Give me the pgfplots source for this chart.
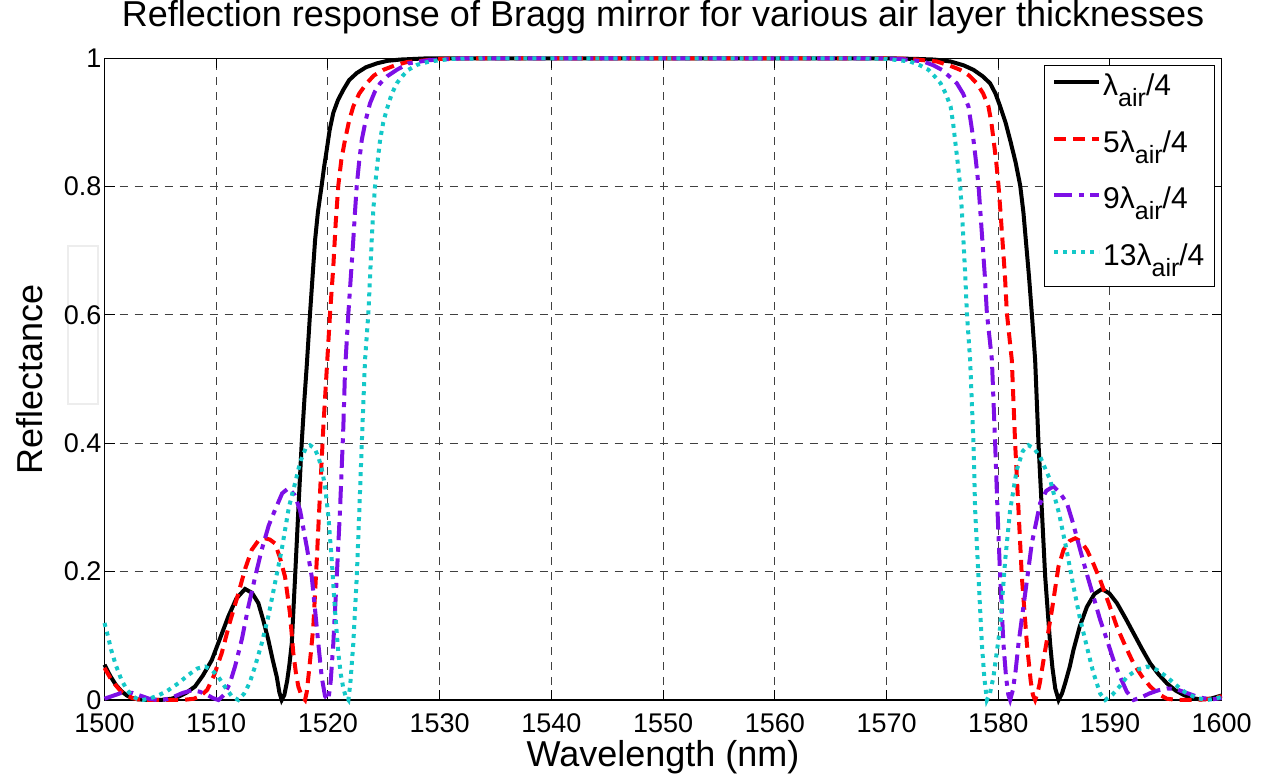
\documentclass[border=0pt]{standalone}
\usepackage{fontspec}
\setmainfont{Liberation Sans}
\usepackage{pgfplots}
\pgfplotsset{compat=1.18}
\definecolor{mpurple}{RGB}{125,15,230}
\definecolor{mcyan}{RGB}{20,200,200}
\newcommand\sub[1]{\raisebox{-5.5pt}{\fontsize{12.5}{12.5}\selectfont #1}}

\begin{document}
\begin{tikzpicture}
\useasboundingbox (-52.25pt,-39.5pt) rectangle (581.25pt,350pt);
\draw[black!7, line width=0.8pt] (-18.25pt,148pt) rectangle (-3.25pt,227pt);
\begin{axis}[
  scale only axis, width=558.6pt, height=320.85pt,
  xmin=1500, xmax=1600, ymin=0, ymax=1,
  xtick={1500,1510,...,1600}, ytick={0,0.2,0.4,0.6,0.8,1},
  /pgf/number format/1000 sep={},
  /pgf/number format/assume math mode=true,
  ticklabel style={font=\fontsize{13.5}{13.5}\selectfont},
  xticklabel style={anchor=base, yshift=-16.3pt},
  yticklabel style={anchor=east, xshift=2pt},
  tick align=inside, major tick length=5pt,
  tick style={black, line width=0.5pt},
  axis line style={black, line width=0.6pt},
  grid=major,
  major grid style={black!75, line width=0.5pt, dash pattern=on 4pt off 3.5pt},
  title={Reflection response of Bragg mirror for various air layer thicknesses},
  title style={at={(axis description cs:0.5,1.03117)}, anchor=base, font=\fontsize{18}{18}\selectfont},
  xlabel={Wavelength (nm)},
  xlabel style={at={(axis description cs:0.5,-0.10394)}, anchor=base, font=\fontsize{18}{18}\selectfont},
  ylabel={Reflectance},
  ylabel style={at={(axis description cs:-0.05505,0.5)}, anchor=base, rotate=0, font=\fontsize{18}{18}\selectfont},
  clip=false,
  legend style={at={(axis description cs:0.994,0.9896)}, anchor=north east,
    draw=black, line width=0.6pt, fill=white,
    font=\fontsize{15}{17}\selectfont,
    inner xsep=4pt, inner ysep=3pt, row sep=8.8pt,
    nodes={inner xsep=1pt, inner ysep=1pt, text height=11pt, text depth=6.5pt}},
  legend cell align=left,
  legend image code/.code={\draw[#1] (0pt,4.5pt) -- (22.5pt,4.5pt);},
]
% lambda/4
\addplot[black, line width=2pt] coordinates {
(1500.0,0.055)(1500.5,0.038)(1501.0,0.024)(1501.5,0.014)(1502.0,0.007)(1502.5,0.003)(1503.0,0.001)(1504.0,0.0)(1505.0,0.0)(1506.0,0.002)(1506.6,0.005)(1507.3,0.011)(1508.1,0.021)(1508.8,0.038)(1509.6,0.062)(1510.3,0.094)(1511.08,0.130)(1511.8,0.158)(1512.58,0.173)(1513.2,0.167)(1513.77,0.151)(1514.2,0.125)(1514.66,0.094)(1515.05,0.063)(1515.42,0.036)(1515.65,0.012)(1515.86,0.0)(1516.1,0.008)(1516.35,0.03)(1516.55,0.055)(1516.76,0.088)(1517.06,0.192)(1517.35,0.296)(1517.65,0.40)(1517.9,0.47)(1518.1,0.52)(1518.4,0.603)(1518.85,0.717)(1519.1,0.76)(1519.44,0.802)(1519.65,0.83)(1519.89,0.857)(1520.15,0.888)(1520.48,0.915)(1520.9,0.935)(1521.38,0.951)(1521.9,0.966)(1522.58,0.977)(1523.4,0.986)(1524.37,0.992)(1525.3,0.996)(1526.45,0.998)(1529,1.0)(1570,1.0)(1572.7,0.999)(1574.3,0.998)(1575.73,0.995)(1576.9,0.989)(1577.78,0.982)(1578.6,0.972)(1579.27,0.961)(1579.75,0.945)(1580.17,0.925)(1580.65,0.9)(1581.1,0.87)(1581.55,0.838)(1581.96,0.802)(1582.25,0.76)(1582.5,0.71)(1582.75,0.66)(1583.0,0.603)(1583.3,0.53)(1583.6,0.40)(1583.9,0.296)(1584.2,0.192)(1584.64,0.088)(1584.85,0.05)(1585.1,0.018)(1585.4,0.0)(1585.7,0.01)(1586.0,0.027)(1586.4,0.052)(1586.73,0.078)(1587.3,0.115)(1587.93,0.145)(1588.6,0.165)(1589.28,0.173)(1589.95,0.166)(1590.62,0.151)(1591.4,0.127)(1592.11,0.104)(1592.85,0.08)(1593.6,0.057)(1594.35,0.04)(1595.09,0.026)(1595.85,0.015)(1596.58,0.008)(1597.3,0.003)(1598.07,0.001)(1599.0,0.002)(1600,0.007)
};
\addlegendentry{λ\sub{air}/4}
% 5 lambda/4
\addplot[red, line width=2pt, dash pattern=on 6pt off 3.5pt] coordinates {
(1500,0.05)(1500.5,0.035)(1501,0.023)(1501.5,0.013)(1502,0.007)(1502.5,0.003)(1503,0.001)(1504,0.0)(1506,0.0)(1507,0.0)(1508,0.002)(1508.6,0.006)(1509.2,0.016)(1509.8,0.038)(1510.49,0.073)(1511.2,0.12)(1511.98,0.166)(1512.6,0.205)(1513.18,0.234)(1513.8,0.249)(1514.37,0.252)(1514.8,0.25)(1515.26,0.244)(1515.7,0.222)(1516.16,0.192)(1516.6,0.135)(1516.9,0.073)(1517.15,0.04)(1517.35,0.021)(1517.65,0.006)(1517.95,0.0)(1518.1,0.012)(1518.25,0.036)(1518.45,0.07)(1518.69,0.114)(1519.0,0.218)(1519.29,0.322)(1519.59,0.426)(1519.89,0.514)(1520.19,0.603)(1520.48,0.675)(1520.7,0.745)(1520.93,0.802)(1521.2,0.842)(1521.53,0.873)(1521.9,0.903)(1522.27,0.925)(1522.8,0.945)(1523.47,0.961)(1524.1,0.973)(1524.96,0.982)(1526,0.989)(1527.05,0.994)(1530,0.999)(1532,1.0)(1570,1.0)(1572.1,0.999)(1574.5,0.995)(1575.6,0.989)(1576.59,0.982)(1577.4,0.973)(1578.08,0.961)(1578.65,0.945)(1579.12,0.925)(1579.38,0.9)(1579.6,0.87)(1579.82,0.838)(1580.02,0.802)(1580.2,0.76)(1580.4,0.71)(1580.6,0.66)(1580.77,0.603)(1581.21,0.53)(1581.51,0.40)(1581.81,0.296)(1582.11,0.192)(1582.56,0.088)(1582.9,0.03)(1583.1,0.008)(1583.3,0.0)(1583.5,0.01)(1583.7,0.025)(1584.05,0.062)(1584.8,0.14)(1585.39,0.208)(1585.84,0.234)(1586.4,0.248)(1586.89,0.252)(1587.4,0.247)(1587.93,0.234)(1588.5,0.213)(1589.12,0.187)(1589.9,0.15)(1590.62,0.114)(1591.4,0.083)(1592.11,0.057)(1592.85,0.037)(1593.6,0.021)(1594.35,0.009)(1595.09,0.002)(1596,0.0)(1597.5,0.0)(1598.5,0.001)(1599.3,0.003)(1600,0.006)
};
\addlegendentry{5λ\sub{air}/4}
% 9 lambda/4
\addplot[mpurple, line width=2pt, dash pattern=on 9pt off 3.3pt on 2.5pt off 3.3pt] coordinates {
(1500,0.002)(1500.5,0.005)(1501,0.008)(1501.5,0.011)(1502,0.012)(1502.5,0.011)(1503,0.008)(1503.5,0.005)(1504,0.002)(1504.7,0.0)(1505.5,0.001)(1506.2,0.005)(1507,0.011)(1507.8,0.015)(1508.5,0.013)(1509.2,0.008)(1509.7,0.003)(1510.2,0.0)(1510.7,0.008)(1511.2,0.025)(1511.68,0.052)(1512.3,0.095)(1512.87,0.145)(1513.5,0.193)(1514.07,0.234)(1514.7,0.272)(1515.26,0.296)(1515.9,0.322)(1516.46,0.330)(1517.0,0.32)(1517.5,0.296)(1518.1,0.239)(1518.55,0.192)(1518.85,0.14)(1519.14,0.088)(1519.44,0.036)(1519.74,0.006)(1520.04,0.0)(1520.25,0.03)(1520.48,0.088)(1520.79,0.192)(1521.08,0.296)(1521.38,0.426)(1521.53,0.514)(1521.83,0.603)(1522.27,0.717)(1522.42,0.76)(1522.58,0.802)(1522.8,0.84)(1523.03,0.873)(1523.4,0.905)(1523.77,0.930)(1524.2,0.948)(1524.67,0.961)(1525.3,0.972)(1526.16,0.982)(1527.2,0.992)(1529,0.997)(1532,1.0)(1569,1.0)(1571.2,0.999)(1573.3,0.995)(1574.2,0.989)(1574.95,0.982)(1575.6,0.972)(1576.29,0.961)(1576.85,0.945)(1577.33,0.925)(1577.55,0.9)(1577.8,0.87)(1578.0,0.84)(1578.23,0.802)(1578.4,0.76)(1578.6,0.71)(1578.8,0.66)(1578.98,0.603)(1579.43,0.53)(1579.72,0.40)(1579.93,0.296)(1580.17,0.192)(1580.46,0.088)(1580.7,0.035)(1580.9,0.008)(1581.06,0.0)(1581.3,0.015)(1581.55,0.045)(1581.81,0.088)(1582.41,0.166)(1583.0,0.244)(1583.75,0.307)(1584.3,0.326)(1584.94,0.333)(1585.5,0.323)(1586.14,0.307)(1586.7,0.275)(1587.33,0.234)(1587.9,0.198)(1588.52,0.161)(1589.1,0.126)(1589.72,0.094)(1590.3,0.063)(1590.91,0.036)(1591.5,0.013)(1592.11,0.0)(1592.8,0.004)(1593.5,0.01)(1594.3,0.015)(1595.1,0.018)(1595.9,0.017)(1596.7,0.012)(1597.5,0.007)(1598.3,0.003)(1599.1,0.001)(1600,0.003)
};
\addlegendentry{9λ\sub{air}/4}
% 13 lambda/4
\addplot[mcyan, line width=2pt, dash pattern=on 2pt off 2.5pt] coordinates {
(1500,0.12)(1500.3,0.1)(1500.6,0.078)(1501,0.055)(1501.5,0.032)(1502,0.016)(1502.5,0.006)(1503,0.001)(1503.4,0.0)(1504,0.002)(1504.8,0.007)(1505.6,0.014)(1506.6,0.026)(1507.5,0.039)(1508.3,0.049)(1509.0,0.052)(1509.6,0.047)(1510.19,0.036)(1510.8,0.02)(1511.39,0.006)(1511.98,0.0)(1512.5,0.01)(1513.0,0.027)(1513.47,0.052)(1514.1,0.09)(1514.66,0.13)(1515.26,0.182)(1515.86,0.234)(1516.5,0.3)(1517.06,0.338)(1517.5,0.370)(1518.0,0.392)(1518.4,0.397)(1518.8,0.392)(1519.14,0.379)(1519.45,0.36)(1519.74,0.333)(1520.04,0.286)(1520.34,0.218)(1520.63,0.14)(1520.93,0.073)(1521.15,0.04)(1521.38,0.018)(1521.6,0.005)(1521.83,0.0)(1522.0,0.025)(1522.27,0.088)(1522.58,0.192)(1522.81,0.296)(1523.03,0.40)(1523.32,0.53)(1523.62,0.603)(1523.92,0.717)(1524.05,0.76)(1524.22,0.802)(1524.45,0.84)(1524.67,0.873)(1524.95,0.9)(1525.26,0.920)(1525.7,0.944)(1526.16,0.961)(1526.65,0.972)(1527.2,0.982)(1528,0.99)(1529.1,0.995)(1531,0.999)(1534,1.0)(1567,1.0)(1570.0,0.999)(1572.1,0.995)(1573.0,0.989)(1573.75,0.982)(1574.3,0.972)(1574.84,0.961)(1575.3,0.945)(1575.73,0.925)(1575.95,0.9)(1576.15,0.87)(1576.35,0.84)(1576.59,0.802)(1576.75,0.76)(1576.9,0.71)(1577.05,0.66)(1577.19,0.603)(1577.48,0.53)(1577.78,0.40)(1577.93,0.296)(1578.23,0.192)(1578.53,0.088)(1578.75,0.035)(1578.98,0.0)(1579.25,0.01)(1579.57,0.036)(1580.17,0.114)(1580.62,0.218)(1581.06,0.296)(1581.66,0.359)(1582.2,0.388)(1582.7,0.397)(1583.2,0.392)(1583.75,0.379)(1584.64,0.343)(1585.45,0.29)(1586.1,0.235)(1586.73,0.177)(1587.3,0.128)(1587.93,0.083)(1588.5,0.043)(1589.12,0.01)(1589.57,0.0)(1590.2,0.008)(1590.9,0.022)(1591.51,0.036)(1592.4,0.047)(1593.3,0.052)(1594.2,0.047)(1595.09,0.036)(1596.0,0.022)(1596.88,0.01)(1597.8,0.003)(1598.67,0.0)(1599.4,0.002)(1600,0.005)
};
\addlegendentry{13λ\sub{air}/4}
\end{axis}
\end{tikzpicture}
\end{document}
